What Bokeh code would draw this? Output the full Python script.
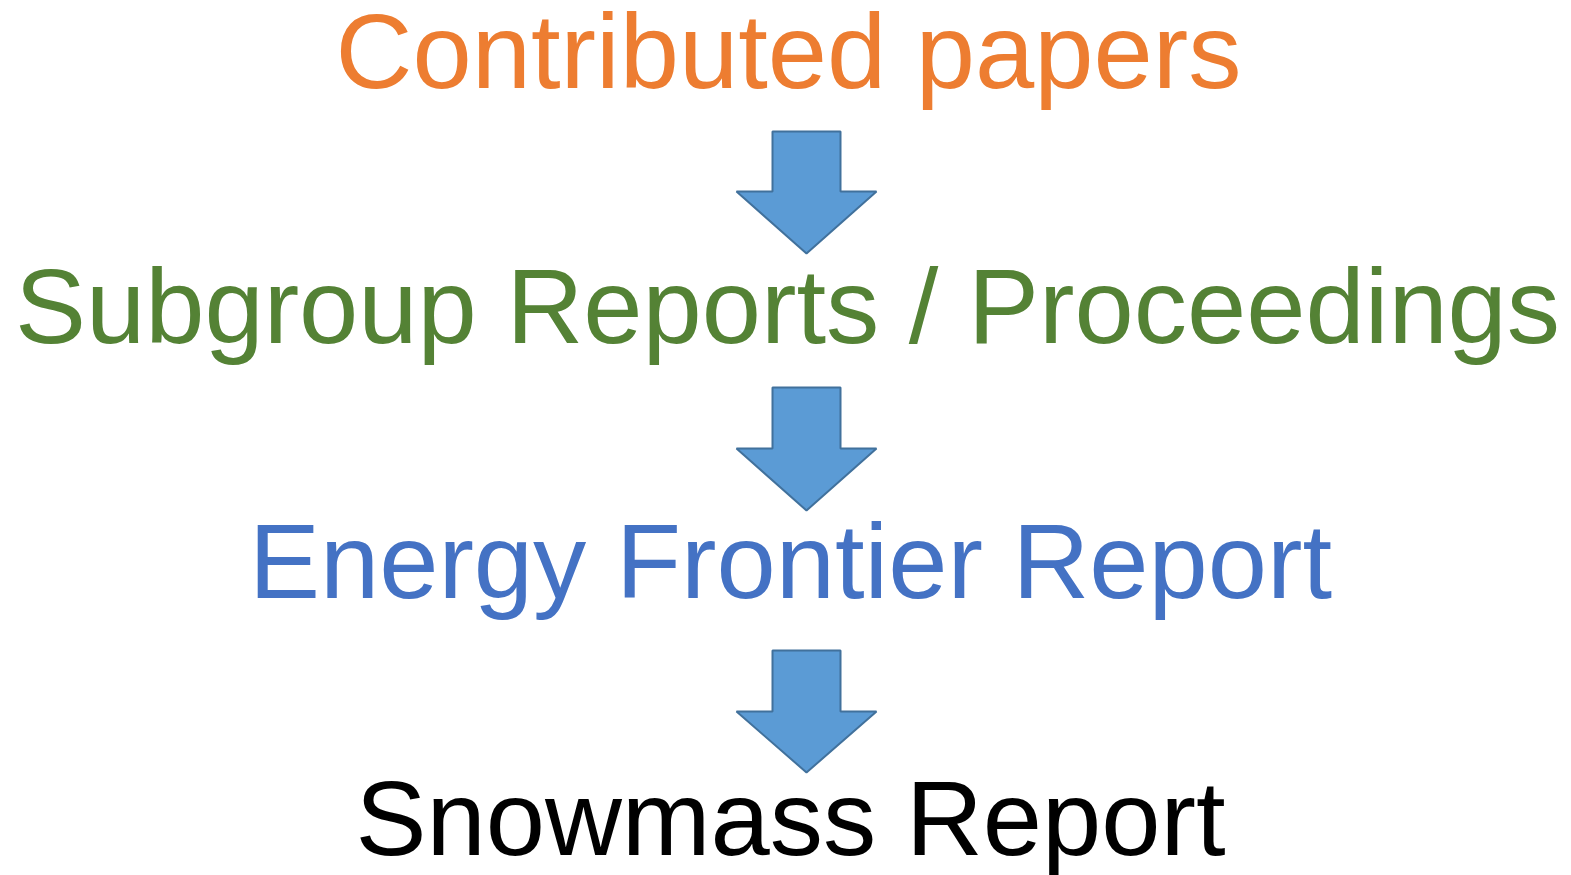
from bokeh.plotting import figure
from bokeh.models import Range1d, ColumnDataSource
from bokeh.core.properties import value
from bokeh.embed import file_html
from bokeh.resources import INLINE

# Content
labels = ["Contributed papers", "Subgroup Reports / Proceedings",
          "Energy Frontier Report", "Snowmass Report"]
label_colors = ["#ED7D31", "#548235", "#4472C4", "#000000"]
label_x = [788, 787, 790, 790]
label_baseline = [88, 343, 598, 855]

arrow_top = [131, 387, 650]
arrow_shoulder = [191, 448, 711]
arrow_tip = [253, 510, 772]
arrow_cx = 806
shaft_half = 34
head_half = 70

W, H = 1571, 875
p = figure(width=W, height=H, output_backend="svg", toolbar_location=None,
           x_range=Range1d(0, W), y_range=Range1d(H, 0),
           min_border=0, outline_line_color=None)
p.axis.visible = False
p.grid.visible = False
p.background_fill_color = "white"
p.border_fill_color = "white"

xs, ys = [], []
for t, s, b in zip(arrow_top, arrow_shoulder, arrow_tip):
    xs.append([arrow_cx - shaft_half, arrow_cx + shaft_half, arrow_cx + shaft_half,
               arrow_cx + head_half, arrow_cx, arrow_cx - head_half,
               arrow_cx - shaft_half])
    ys.append([t, t, s, s, b, s, s])
p.patches(xs, ys, fill_color="#5B9BD5", line_color="#41719C", line_width=2)

src = ColumnDataSource(dict(x=label_x, y=label_baseline, text=labels, color=label_colors))
p.text(x="x", y="y", text="text", text_color="color", source=src,
       text_font=value("Liberation Sans"), text_font_size="106.5px",
       text_align="center", text_baseline="alphabetic", y_offset=-37)

open("out.html", "w").write(file_html(p, INLINE))
